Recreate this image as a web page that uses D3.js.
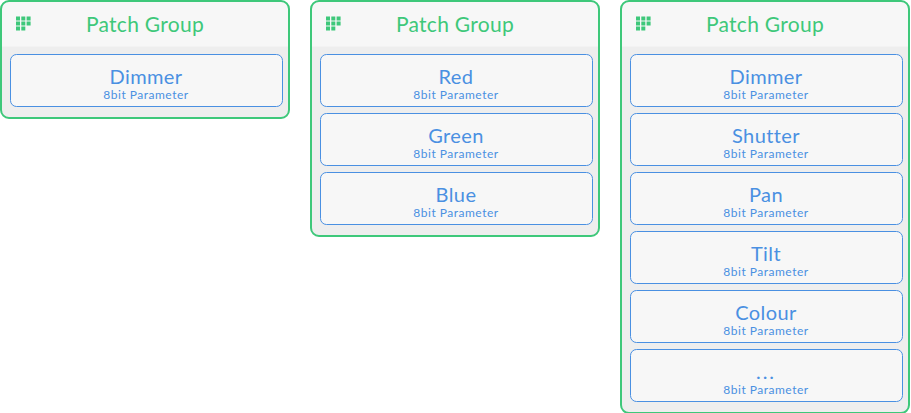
<!DOCTYPE html>
<html>
<head>
<meta charset="utf-8" />
<title>Patch Groups</title>
<script src="https://d3js.org/d3.v7.min.js"></script>
<style>
html, body { margin: 0; padding: 0; background: #fff; }
svg { display: block; }
text { font-family: Lato, "Noto Sans", sans-serif; }
</style>
</head>
<body>
<script>
// panel titles and the parameters listed in each one
const groupTitles = ['Patch Group', 'Patch Group', 'Patch Group'];
const groupParams = [
    ['Dimmer'],
    ['Red', 'Green', 'Blue'],
    ['Dimmer', 'Shutter', 'Pan', 'Tilt', 'Colour', '...']
];
const paramType = '8bit Parameter';

const w = 911, h = 413;
const green = '#3ec87a', blue = '#4a90e2';

const svg = d3.select('body').append('svg').attr('width', w).attr('height', h);

// columns for the panels, rows for the parameter boxes
const xPanel = d3.scaleLinear().domain([0, 1]).range([1, 311]);
const yRow = d3.scaleLinear().domain([0, 1]).range([54, 113]);
const panelW = 288, itemH = 52, itemW = 272, itemX = 9;

function ph(d) { return yRow(d.params.length - 1) + itemH + 11; }

const defs = svg.append('defs');

const panels = svg.selectAll('g.panel')
    .data(groupTitles.map((t, i) => ({ title: t, params: groupParams[i], i: i })))
    .enter().append('g')
    .attr('class', 'panel')
    .attr('transform', d => 'translate(' + xPanel(d.i) + ',1)');

panels.each(function(d) {
    defs.append('clipPath').attr('id', 'clip' + d.i)
        .append('rect').attr('width', panelW).attr('height', ph(d)).attr('rx', 8);
});

panels.append('rect')
    .attr('width', panelW).attr('height', ph)
    .attr('rx', 8).attr('fill', '#eeeeee');

panels.append('rect')
    .attr('clip-path', d => 'url(#clip' + d.i + ')')
    .attr('width', panelW).attr('height', 45.5)
    .attr('fill', '#f7f7f7');

panels.append('rect')
    .attr('width', panelW).attr('height', ph)
    .attr('rx', 8).attr('fill', 'none')
    .attr('stroke', green).attr('stroke-width', 2);

// grid icon
const dots = [[0,0],[1,0],[2,0],[0,1],[1,1],[2,1],[0,2],[1,2]];
panels.each(function() {
    d3.select(this).selectAll('rect.dot').data(dots).enter().append('rect')
        .attr('class', 'dot')
        .attr('x', d => 15 + d[0] * 5.3).attr('y', d => 15.5 + d[1] * 5)
        .attr('width', 4).attr('height', 4).attr('fill', green);
});

panels.append('text')
    .attr('x', panelW / 2).attr('y', 31)
    .attr('text-anchor', 'middle')
    .attr('font-size', 21).attr('letter-spacing', 0.3).attr('fill', green)
    .text(d => d.title);

const items = panels.selectAll('g.item')
    .data(d => d.params)
    .enter().append('g')
    .attr('class', 'item')
    .attr('transform', (d, k) => 'translate(' + itemX + ',' + (yRow(k) - 1) + ')');

items.append('rect')
    .attr('x', 0.5).attr('y', 0.5)
    .attr('width', itemW).attr('height', itemH)
    .attr('rx', 6).attr('fill', '#f7f7f7')
    .attr('stroke', blue).attr('stroke-width', 1);

items.append('text')
    .attr('x', itemW / 2).attr('y', 30)
    .attr('text-anchor', 'middle')
    .attr('font-size', 20).attr('letter-spacing', d => d === '...' ? 2 : 0.4)
    .attr('fill', blue)
    .text(d => d);

items.append('text')
    .attr('x', itemW / 2).attr('y', 44.5)
    .attr('text-anchor', 'middle')
    .attr('font-size', 12).attr('letter-spacing', 0.5).attr('fill', blue)
    .text(paramType);
</script>
</body>
</html>
